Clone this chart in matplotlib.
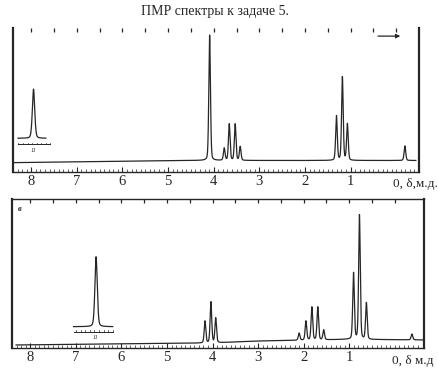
import numpy as np
import matplotlib.pyplot as plt

plt.rcParams['font.family'] = ['Liberation Serif', 'DejaVu Serif']

ink = '#262626'

# upper spectrum (shift in ppm, peak top as fraction of panel height)
top_shift = [4.09, 3.77, 3.66, 3.53, 3.42, 1.31, 1.18, 1.07, -0.19]
top_height = [0.951, 0.165, 0.333, 0.333, 0.176, 0.389, 0.660, 0.333, 0.181]
top_base_ppm = [8.4, 4.5, -0.5]
top_base_val = [0.065, 0.080, 0.080]
top_inset = dict(ppm=7.95, base=0.234, peak=0.576, span=(8.29, 7.68),
                 ruler=0.192, ruler_span=(8.29, 7.58), label_y=0.15)

# lower spectrum
bot_shift = [4.165, 4.035, 3.93, 2.10, 1.95, 1.82, 1.69, 1.56, 0.906, 0.776, 0.624, -0.375]
bot_height = [0.181, 0.309, 0.201, 0.100, 0.181, 0.275, 0.275, 0.121, 0.503, 0.893, 0.302, 0.094]
bot_base_ppm = [8.4, 4.0, 3.0, 1.0, -0.7]
bot_base_val = [0.020, 0.034, 0.047, 0.058, 0.054]
bot_inset = dict(ppm=6.555, base=0.143, peak=0.613, span=(7.05, 6.19),
                 ruler=0.109, ruler_span=(7.05, 6.19), label_y=0.07)

tick_ppm = [8, 7, 6, 5, 4, 3, 2, 1]


def line_shape(ppm, s, gamma):
    # narrow lorentzian blended with a gaussian so the feet stay thin
    lor = gamma**2 / ((ppm - s)**2 + gamma**2)
    gau = np.exp(-0.5 * ((ppm - s) / (1.1 * gamma))**2)
    return 0.35 * lor + 0.65 * gau


def spectrum(ppm, shifts, heights, base_ppm, base_val, gamma=0.017):
    base = np.interp(ppm, base_ppm[::-1], base_val[::-1])
    y = base.copy()
    for s, h in zip(shifts, heights):
        amp = h - np.interp(s, base_ppm[::-1], base_val[::-1])
        y += amp * line_shape(ppm, s, gamma)
    return y


def draw_panel(ax, xlim, shifts, heights, base_ppm, base_val, inset, zero_text, top_line):
    ppm = np.linspace(xlim[0], xlim[1], 8000)
    ax.plot(ppm, spectrum(ppm, shifts, heights, base_ppm, base_val), color=ink, lw=0.9)

    # offset trace of the far-downfield signal
    xi = np.linspace(inset['span'][0], inset['span'][1], 400)
    yi = inset['base'] + (inset['peak'] - inset['base']) * line_shape(xi, inset['ppm'], 0.025)
    ax.plot(xi, yi, color=ink, lw=0.9)
    r0, r1 = inset['ruler_span']
    ax.plot([r0, r1], [inset['ruler'], inset['ruler']], color=ink, lw=0.7)
    for t in np.arange(r1, r0, 0.1):
        ax.plot([t, t], [inset['ruler'], inset['ruler'] + 0.012], color=ink, lw=0.5)
    ax.text(inset['ppm'], inset['label_y'], '11', fontsize=4.5, style='italic',
            ha='center', va='center', color=ink)

    ax.set_xlim(*xlim)
    ax.set_ylim(0, 1)
    ax.set_yticks([])
    ax.set_xticks(tick_ppm)
    ax.set_xticklabels([str(t) for t in tick_ppm])
    ax.set_xticks(np.arange(-0.5, 8.5, 0.1), minor=True)
    ax.tick_params(axis='x', which='major', direction='in', length=3.5, width=0.8,
                   labelsize=10.5, pad=2, colors=ink)
    ax.tick_params(axis='x', which='minor', direction='in', length=2, width=0.5,
                   colors=ink)
    # marks along the top edge every 0.5 ppm
    top_marks = np.arange(0.0, xlim[0], 0.5)
    ax.vlines(top_marks, 0.975, 1.0, transform=ax.get_xaxis_transform(),
              color=ink, lw=0.9)
    ax.text(0.07, -0.045, zero_text, transform=ax.get_xaxis_transform(),
            fontsize=9.5, ha='left', va='top', color=ink)
    for side in ['left', 'right']:
        ax.spines[side].set_linewidth(1.6)
        ax.spines[side].set_color(ink)
    ax.spines['bottom'].set_linewidth(1.0)
    ax.spines['bottom'].set_color(ink)
    ax.spines['top'].set_visible(top_line)
    ax.spines['top'].set_linewidth(1.0)
    ax.spines['top'].set_color(ink)


fig = plt.figure(figsize=(4.38, 3.71), dpi=100)

ax1 = fig.add_axes([0.0297, 0.5364, 0.927, 0.388])
draw_panel(ax1, (8.38, -0.43), top_shift, top_height, top_base_ppm, top_base_val,
           top_inset, '0, δ,м.д.', False)
ax1.annotate('', xy=(-0.15, 0.944), xytext=(0.46, 0.944),
             arrowprops=dict(arrowstyle='-|>', color=ink, lw=0.9, mutation_scale=6))

ax2 = fig.add_axes([0.0274, 0.0620, 0.9406, 0.4016])
draw_panel(ax2, (8.31, -0.64), bot_shift, bot_height, bot_base_ppm, bot_base_val,
           bot_inset, '0, δ м.д', True)
ax2.text(0.015, 0.92, 'в', transform=ax2.transAxes, fontsize=6, style='italic',
         fontweight='bold', color=ink)

fig.text(215 / 438, 1 - 12 / 371, 'ПМР спектры к задаче 5.', fontsize=10,
         ha='center', va='center', color=ink)

fig.savefig('out.png', dpi=100)
